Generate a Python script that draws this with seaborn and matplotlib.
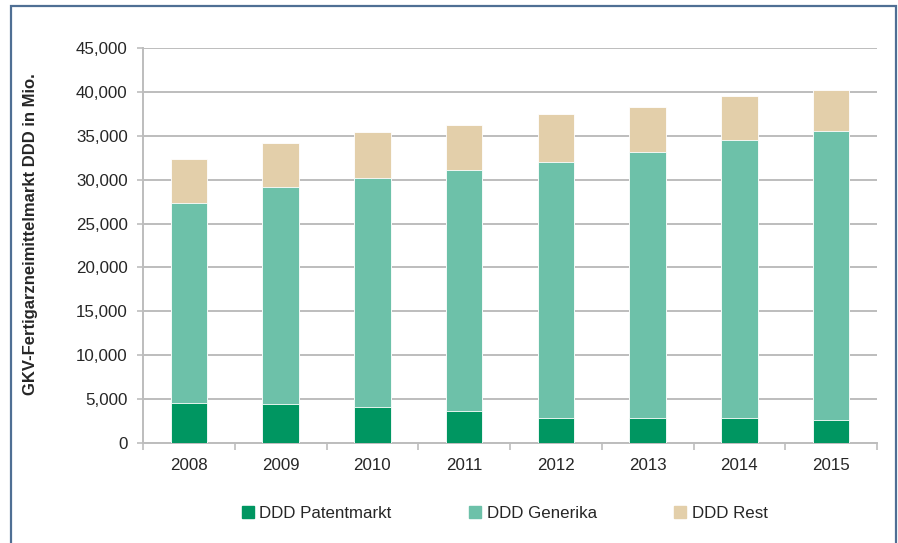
import numpy as np
import pandas as pd
import matplotlib
matplotlib.use('Agg')
import matplotlib.pyplot as plt
import seaborn as sns
from matplotlib.patches import Rectangle
from matplotlib.lines import Line2D
from matplotlib.ticker import FuncFormatter, FixedLocator

years = ['2008', '2009', '2010', '2011', '2012', '2013', '2014', '2015']
ddd_patent = [4520, 4410, 4100, 3680, 2810, 2810, 2810, 2620]
ddd_generika = [22780, 24750, 26090, 27450, 29160, 30340, 31740, 32880]
ddd_rest = [5050, 5020, 5240, 5100, 5510, 5160, 5010, 4710]

series_names = ['DDD Patentmarkt', 'DDD Generika', 'DDD Rest']
colors = ['#009661', '#6DC1A9', '#E3CFAA']

df = pd.DataFrame({'year': years, 'patent': ddd_patent,
                   'generika': ddd_generika, 'rest': ddd_rest})
# cumulative heights, drawn back to front
df['top_gen'] = df['patent'] + df['generika']
df['top_rest'] = df['top_gen'] + df['rest']

sns.set_style('white')
plt.rcParams['font.family'] = ['Liberation Sans', 'DejaVu Sans']
fs = 12.2

fig = plt.figure(figsize=(8.98, 5.43), dpi=100)
ax = fig.add_axes([143 / 898, 1 - 443 / 543, (877 - 143) / 898, (443 - 48) / 543])

for col, c in zip(['top_rest', 'top_gen', 'patent'], colors[::-1]):
    sns.barplot(data=df, x='year', y=col, color=c, width=0.4, saturation=1,
                edgecolor='white', linewidth=0.6, ax=ax, zorder=3)

ax.set_ylim(0, 45000)
ax.set_xlim(-0.5, len(years) - 0.5)
ax.set_yticks(np.arange(0, 45001, 5000))
ax.yaxis.set_major_formatter(FuncFormatter(lambda v, p: f'{int(v):,}'))
ax.grid(axis='y', color='#BDBDBD', linewidth=1.4, zorder=0)
ax.set_axisbelow(True)

for s in ['top', 'right']:
    ax.spines[s].set_visible(False)
for s in ['left', 'bottom']:
    ax.spines[s].set_color('#BDBDBD')
    ax.spines[s].set_linewidth(1.4)

ax.tick_params(axis='y', length=4, color='#BDBDBD', width=1.2,
               labelsize=fs, pad=7, left=True)
ax.tick_params(axis='x', which='major', length=0, labelsize=fs, pad=11)
ax.xaxis.set_minor_locator(FixedLocator(np.arange(-0.5, len(years), 1.0)))
ax.tick_params(axis='x', which='minor', length=5, color='#BDBDBD', width=1.2,
               bottom=True)

ax.set_xlabel('')
ax.set_ylabel('GKV-Fertigarzneimittelmarkt DDD in Mio.', fontsize=12,
              fontweight='bold')
ax.yaxis.set_label_coords(-0.143, 0.53)

handles = [Line2D([0], [0], marker='s', linestyle='', markersize=8,
                  markerfacecolor=c, markeredgecolor=c) for c in colors]
fig.legend(handles, series_names, loc='center', ncol=3, frameon=False,
           bbox_to_anchor=(505 / 898, 1 - 513 / 543), fontsize=fs,
           handlelength=0.6, handletextpad=0.4, columnspacing=4.6)

# outer frame
fig.add_artist(Rectangle((11 / 898, -0.05), (896 - 11) / 898, 1 - 6 / 543 + 0.05,
                         transform=fig.transFigure, fill=False,
                         edgecolor='#4F6F94', linewidth=1.6, clip_on=False))

fig.savefig('out.png', dpi=100)
